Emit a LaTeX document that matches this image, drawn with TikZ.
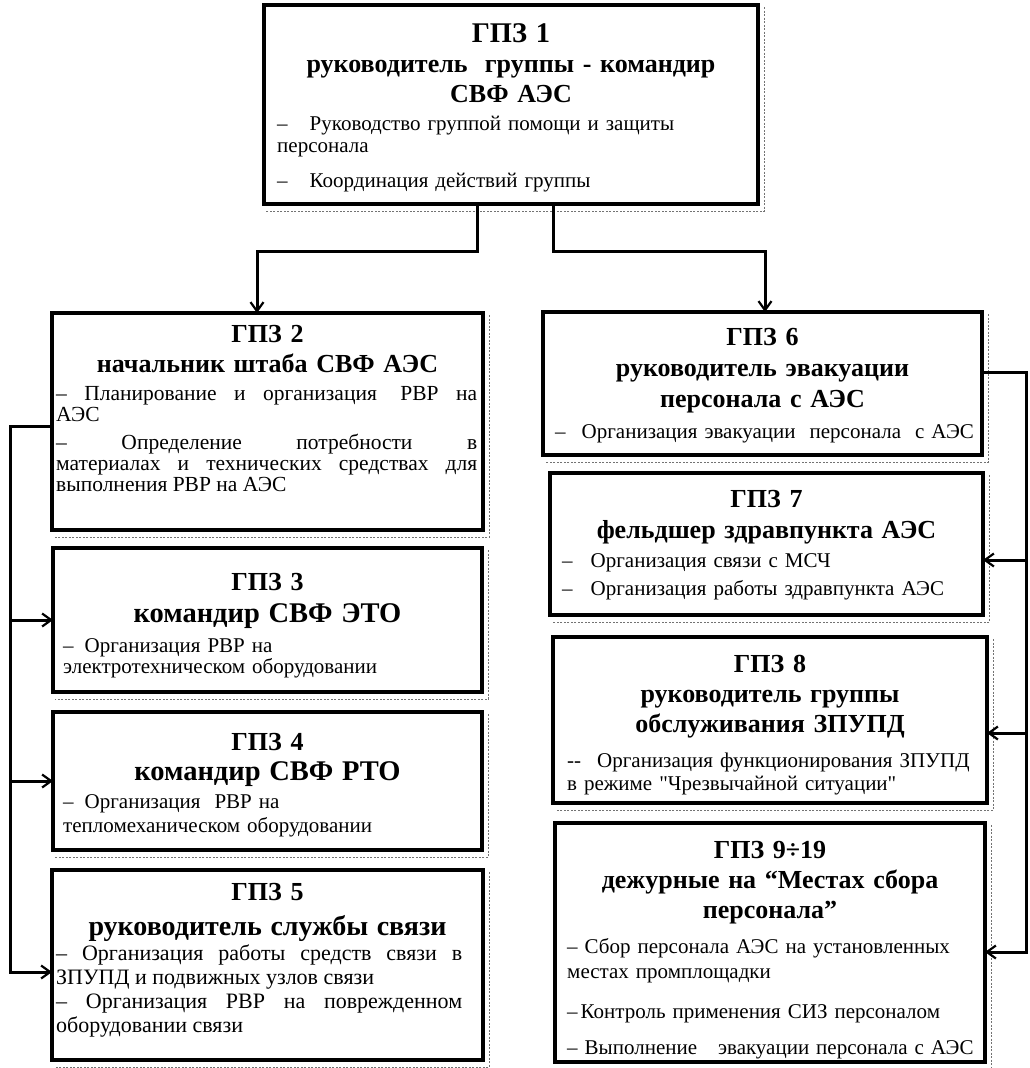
\documentclass[tikz,border=0pt]{standalone}
\usepackage{fontspec}
\setmainfont{Liberation Serif}[Ligatures=TeXOff]
\usetikzlibrary{arrows.meta}
\newcommand{\bigln}[2]{{\fontsize{#1}{30}\selectfont #2}}
\begin{document}
\begin{tikzpicture}[x=1pt,y=-1pt,
  box/.style={draw, line width=4.2pt, inner sep=0pt, outer sep=0pt, anchor=north west},
  ttl/.style={inner sep=0pt, anchor=base, align=center, text width=425pt, font=\bfseries\fontsize{26}{#1}\selectfont},
  ttl/.default=30,
  bdy/.style={inner sep=0pt, anchor=base west, font=\fontsize{21}{#1}\selectfont},
  bdy/.default=22,
  arr/.style={line width=3pt, -{Straight Barb[length=9pt,width=13pt,line width=2.2pt]}},
  ghost/.style={black!55, line width=0.7pt, dash pattern=on 2pt off 1.5pt}]
\useasboundingbox[fill=white] (0,0) rectangle (1029,1068);

% boxes
\node[box, minimum width=494pt, minimum height=199pt] (b1) at (264,5) {};
\node[box, minimum width=431pt, minimum height=217pt] (b2) at (52,313) {};
\node[box, minimum width=429pt, minimum height=144pt] (b3) at (53,548) {};
\node[box, minimum width=429pt, minimum height=138pt] (b4) at (53,712) {};
\node[box, minimum width=431pt, minimum height=190pt] (b5) at (52,870) {};
\node[box, minimum width=439pt, minimum height=143pt] (b6) at (543,312) {};
\node[box, minimum width=433pt, minimum height=142pt] (b7) at (550,473) {};
\node[box, minimum width=434pt, minimum height=166pt] (b8) at (553,637) {};
\node[box, minimum width=430pt, minimum height=239pt] (b9) at (555,823) {};

\foreach \b in {b1,b2,b3,b4,b5,b6,b7,b8,b9}{
  \draw[ghost] ([xshift=6pt,yshift=-2pt]\b.north east) -- ([xshift=6pt,yshift=-7pt]\b.south east)
     -- ([xshift=2pt,yshift=-7pt]\b.south west);
}

% titles
\node[ttl] (t1) at (511,42) {\bigln{28.5}{ГПЗ 1}\\руководитель\ \ группы - командир\\СВФ АЭС};
\node[ttl] (t2) at (267.5,342) {ГПЗ 2\\начальник штаба СВФ АЭС};
\node[ttl=32] (t3) at (267.5,590) {ГПЗ 3\\\bigln{28.5}{командир СВФ ЭТО}};
\node[ttl] (t4) at (267.5,750) {ГПЗ 4\\\bigln{28.5}{командир СВФ РТО}};
\node[ttl=35] (t5) at (267.5,900) {ГПЗ 5\\\bigln{28}{руководитель службы связи}};
\node[ttl=31] (t6) at (762.5,345) {ГПЗ 6\\руководитель эвакуации\\персонала с АЭС};
\node[ttl=31] (t7) at (766.5,507) {ГПЗ 7\\фельдшер здравпункта АЭС};
\node[ttl] (t8) at (770,672) {ГПЗ 8\\руководитель группы\\обслуживания ЗПУПД};
\node[ttl] (t9) at (770,858) {ГПЗ 9÷19\\дежурные на “Местах сбора\\персонала”};

% bodies
\node[bdy, text width=470pt, align=left] (d1) at (277,130)
  {–\hspace{22pt}Руководство группой помощи и защиты\newline персонала\par\vspace{13pt}–\hspace{22pt}Координация действий группы};
\node[bdy, text width=421pt, align=justify, font=\fontsize{21.5}{21}\selectfont] (d2) at (56,400)
  {– Планирование и организация\hspace{6pt} РВР на\linebreak АЭС\par\vspace{7pt}– Определение потребности в\linebreak материалах и технических средствах для\linebreak выполнения РВР на АЭС};
\node[bdy=21, text width=410pt, align=left] (d3) at (63,652)
  {–\hspace{11pt}Организация РВР на\newline электротехническом оборудовании};
\node[bdy=24, text width=410pt, align=left] (d4) at (63,808)
  {–\hspace{11pt}Организация\ \ РВР на\newline тепломеханическом оборудовании};
\node[bdy, text width=406pt, align=justify, font=\fontsize{22}{24}\selectfont] (d5) at (56,960)
  {– Организация работы средств связи в\linebreak ЗПУПД и подвижных узлов связи\par – Организация РВР на поврежденном\linebreak оборудовании связи};
\node[bdy, text width=425pt, align=left] (d6) at (555,438)
  {–\hspace{16pt}Организация эвакуации\ \ персонала\ \ с АЭС};
\node[bdy=28, text width=415pt, align=left] (d7) at (562,567)
  {–\hspace{18pt}Организация связи с МСЧ\par –\hspace{18pt}Организация работы здравпункта АЭС};
\node[bdy=23, text width=415pt, align=left] (d8) at (567,767)
  {-{}-\hspace{16pt}Организация функционирования ЗПУПД\newline в режиме "Чрезвычайной ситуации"};
\node[bdy=25, text width=415pt, align=left] (d9) at (567,953)
  {– Сбор персонала АЭС на установленных\newline местах промплощадки\par\vspace{15pt}–\hspace{3pt}Контроль применения СИЗ персоналом\par\vspace{11pt}– Выполнение\ \ \ эвакуации персонала с АЭС};

% connectors
\draw[arr] ([xshift=213pt]b1.south west) -- ++(0,47) -| ([xshift=205pt]b2.north west);
\draw[arr] ([xshift=289pt]b1.south west) -- ++(0,47) -| ([xshift=222pt]b6.north west);

\coordinate (lt) at (10,426);
\coordinate (lb) at (10,972);
\draw[arr] (b2.west |- lt) -- (lt) -- (lb) -- (b5.west |- lb);
\draw[arr] (lt |- b3.west) -- (b3.west);
\draw[arr] (lt |- b4.west) -- (b4.west);

\coordinate (rt) at (1026,372);
\coordinate (rb) at (1026,952);
\coordinate (r7) at (1026,560);
\coordinate (r8) at (1026,733);
\draw[arr] (b6.east |- rt) -- (rt) -- (rb) -- (b9.east |- rb);
\draw[arr] (r7) -- (b7.east |- r7);
\draw[arr] (r8) -- (b8.east |- r8);
\end{tikzpicture}
\end{document}
